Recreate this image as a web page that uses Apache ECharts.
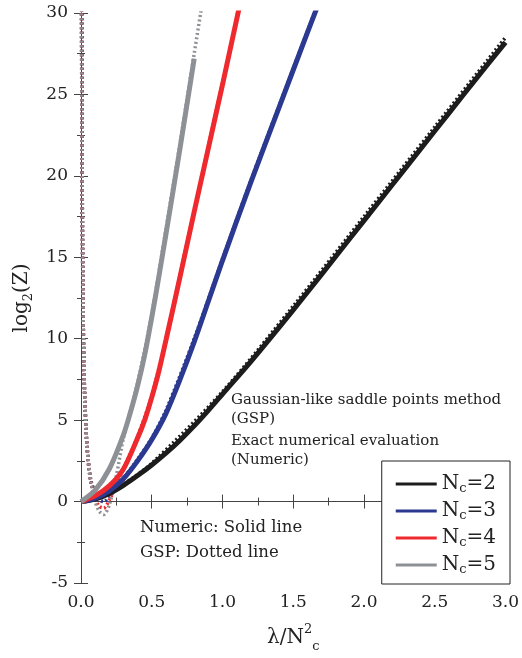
<!DOCTYPE html>
<html lang="en">
<head>
  <meta charset="UTF-8">
  <title>log2(Z) vs lambda</title>
  <style>
    html,
    body {
      padding: 0;
      margin: 0;
      background: #fff;
    }
  </style>
  <script src="https://cdn.jsdelivr.net/npm/echarts@6.0.0/dist/echarts.min.js"></script>
</head>
<body>
  <div id="demo" style="width:522px;height:658px"></div>
  <script>
    // numeric (solid) curves
    const lam2 = [0, 0.1, 0.2, 0.3, 0.4, 0.5, 0.6, 0.7, 0.8, 0.9, 1.0, 1.2, 1.4, 1.6, 1.8, 2.0, 2.2, 2.4, 2.6, 2.8, 3.0]
    const num2 = [0, 0.15, 0.5, 1.0, 1.6, 2.25, 2.97, 3.77, 4.65, 5.6, 6.6, 8.6, 10.7, 12.85, 15.05, 17.25, 19.45, 21.65, 23.85, 26.05, 28.2]
    const lam3 = [0, 0.1, 0.2, 0.3, 0.4, 0.5, 0.6, 0.7, 0.8, 0.9, 1.0, 1.2, 1.4, 1.6, 1.68]
    const num3 = [0, 0.2, 0.65, 1.4, 2.5, 3.8, 5.4, 7.5, 9.8, 12.3, 14.8, 19.6, 24.2, 28.8, 30.6]
    const lam4 = [0, 0.1, 0.2, 0.3, 0.4, 0.45, 0.5, 0.55, 0.6, 0.7, 0.8, 0.9, 1.0, 1.1, 1.13]
    const num4 = [0, 0.35, 0.96, 2.0, 3.9, 5.0, 6.4, 8.0, 9.9, 13.8, 17.8, 21.7, 25.6, 29.6, 30.8]
    const lam5 = [0, 0.1, 0.2, 0.3, 0.35, 0.4, 0.45, 0.5, 0.55, 0.6, 0.7, 0.8]
    const num5 = [0, 0.7, 2.0, 4.1, 5.5, 7.1, 9.0, 11.3, 13.8, 16.4, 21.7, 27.2]

    // GSP (dotted) curves
    const gLam2 = [0.006, 0.01, 0.02, 0.035, 0.05, 0.07, 0.1, 0.13, 0.16, 0.2, 0.3, 0.5, 1.0, 1.5, 2.0, 2.5, 3.0]
    const gsp2 = [30.5, 17, 8.5, 4.5, 2.6, 1.3, 0.6, 0.4, 0.35, 0.5, 1.05, 2.35, 6.75, 12.0, 17.5, 23.0, 28.5]
    const gLam3 = [0.004, 0.01, 0.02, 0.035, 0.05, 0.07, 0.1, 0.13, 0.16, 0.2, 0.25, 0.3, 0.4, 0.5, 0.6, 0.8, 1.0, 1.2, 1.4, 1.68]
    const gsp3 = [30.5, 17, 8.5, 4.5, 2.6, 1.2, 0.4, 0.1, 0.0, 0.3, 0.8, 1.4, 2.6, 3.9, 5.6, 10.0, 14.9, 19.7, 24.3, 30.7]
    const gLam4 = [0.003, 0.01, 0.02, 0.035, 0.05, 0.07, 0.1, 0.13, 0.16, 0.2, 0.25, 0.3, 0.4, 0.5, 0.6, 0.7, 0.8, 0.9, 1.0, 1.13]
    const gsp4 = [30.5, 17, 8.5, 4.5, 2.6, 1.2, 0.2, -0.3, -0.4, 0.1, 1.0, 2.0, 4.0, 6.5, 10.0, 13.9, 17.9, 21.8, 25.7, 30.9]
    const gLam5 = [0.003, 0.01, 0.02, 0.035, 0.05, 0.07, 0.1, 0.13, 0.16, 0.2, 0.25, 0.3, 0.4, 0.5, 0.6, 0.7, 0.8, 0.86]
    const gsp5 = [30.5, 17, 8.5, 4.5, 2.6, 1.2, 0.0, -0.6, -0.8, -0.2, 1.6, 3.9, 7.3, 11.5, 16.7, 22.0, 27.5, 30.8]

    const names = ['Nc=2', 'Nc=3', 'Nc=4', 'Nc=5']
    const colors = ['#1c1c1c', '#2b3990', '#ee2a2e', '#8d9196']

    const solids = [[lam2, num2], [lam3, num3], [lam4, num4], [lam5, num5]]
    const dots = [[gLam2, gsp2], [gLam3, gsp3], [gLam4, gsp4], [gLam5, gsp5]]
    const zip = (xs, ys) => xs.map((x, i) => [x, ys[i]])

    const serif = 'DejaVu Serif'
    const axisColor = '#444'

    const series = []
    names.forEach((name, i) => {
      series.push({
        name: name + ' GSP',
        type: 'line',
        data: zip(dots[i][0], dots[i][1]),
        smooth: 0.3,
        showSymbol: false,
        silent: true,
        lineStyle: { color: colors[i], width: 3.5, type: [2, 2.5] },
        z: 2
      })
      series.push({
        name: name,
        type: 'line',
        data: zip(solids[i][0], solids[i][1]),
        smooth: 0.3,
        showSymbol: false,
        silent: true,
        itemStyle: { color: colors[i] },
        lineStyle: { color: colors[i], width: 5 },
        z: 3
      })
    })

    const tickStyle = { inside: true, length: 7, lineStyle: { color: axisColor } }
    const minorStyle = { show: true, splitNumber: 2, length: 4, lineStyle: { color: axisColor } }

    const chart = echarts.init(document.getElementById('demo'))
    const option = {
      animation: false,
      backgroundColor: '#fff',
      grid: { left: 81, right: 12, top: 13, bottom: 74 },
      xAxis: [{
        type: 'value',
        min: 0,
        max: 3,
        interval: 0.5,
        name: '{t|λ/N}{sup|2}{sub|c}',
        nameLocation: 'middle',
        nameGap: 40,
        nameTextStyle: {
          rich: {
            t: { fontFamily: serif, fontSize: 20, color: '#222', lineHeight: 30 },
            sup: { fontFamily: serif, fontSize: 13, color: '#222', verticalAlign: 'top', lineHeight: 13 },
            sub: { fontFamily: serif, fontSize: 13, color: '#222', verticalAlign: 'bottom', lineHeight: 13 }
          }
        },
        axisLine: { lineStyle: { color: axisColor } },
        axisTick: tickStyle,
        minorTick: minorStyle,
        splitLine: { show: false },
        axisLabel: {
          margin: 11,
          fontFamily: serif,
          fontSize: 17,
          color: '#222',
          formatter: v => v.toFixed(1)
        }
      }, {
        type: 'value',
        position: 'top',
        min: 0,
        max: 3,
        interval: 0.5,
        axisLine: { lineStyle: { color: axisColor } },
        axisTick: tickStyle,
        minorTick: minorStyle,
        splitLine: { show: false },
        axisLabel: { show: false }
      }],
      yAxis: [{
        type: 'value',
        min: -5,
        max: 30,
        interval: 5,
        name: '{t|log}{sub|2}{t|(Z)}',
        nameLocation: 'middle',
        nameRotate: 90,
        nameGap: 40,
        nameTextStyle: {
          rich: {
            t: { fontFamily: serif, fontSize: 20, color: '#222', lineHeight: 28 },
            sub: { fontFamily: serif, fontSize: 13, color: '#222', verticalAlign: 'bottom', lineHeight: 13 }
          }
        },
        axisLine: { show: true, lineStyle: { color: axisColor } },
        axisTick: tickStyle,
        minorTick: minorStyle,
        splitLine: { show: false },
        axisLabel: { margin: 13, fontFamily: serif, fontSize: 17, color: '#222' }
      }, {
        type: 'value',
        position: 'right',
        min: -5,
        max: 30,
        interval: 5,
        axisLine: { show: true, lineStyle: { color: axisColor } },
        axisTick: tickStyle,
        minorTick: minorStyle,
        splitLine: { show: false },
        axisLabel: { show: false }
      }],
      legend: {
        data: names,
        orient: 'vertical',
        right: 12,
        bottom: 74,
        selectedMode: false,
        backgroundColor: '#fff',
        borderColor: '#222',
        borderWidth: 1,
        borderRadius: 0,
        padding: [12, 14, 8, 14],
        itemGap: 5,
        itemWidth: 41,
        itemHeight: 3,
        icon: 'rect',
        formatter: n => 'N{s|c}=' + n.slice(-1),
        textStyle: {
          fontFamily: serif,
          fontSize: 20,
          color: '#222',
          lineHeight: 22,
          rich: {
            s: { fontFamily: serif, fontSize: 13, color: '#222', verticalAlign: 'bottom', lineHeight: 12 }
          }
        },
        z: 10
      },
      graphic: [
        { type: 'text', left: 231, top: 393, style: { text: 'Gaussian-like saddle points method', font: '15px "DejaVu Serif"', fill: '#222' } },
        { type: 'text', left: 231, top: 412, style: { text: '(GSP)', font: '15px "DejaVu Serif"', fill: '#222' } },
        { type: 'text', left: 231, top: 434, style: { text: 'Exact numerical evaluation', font: '15px "DejaVu Serif"', fill: '#222' } },
        { type: 'text', left: 231, top: 453, style: { text: '(Numeric)', font: '15px "DejaVu Serif"', fill: '#222' } },
        { type: 'text', left: 140, top: 519, style: { text: 'Numeric: Solid line', font: '16.5px "DejaVu Serif"', fill: '#222' } },
        { type: 'text', left: 140, top: 544, style: { text: 'GSP: Dotted line', font: '16.5px "DejaVu Serif"', fill: '#222' } }
      ],
      series: series
    }
    chart.setOption(option)
  </script>
</body>
</html>
